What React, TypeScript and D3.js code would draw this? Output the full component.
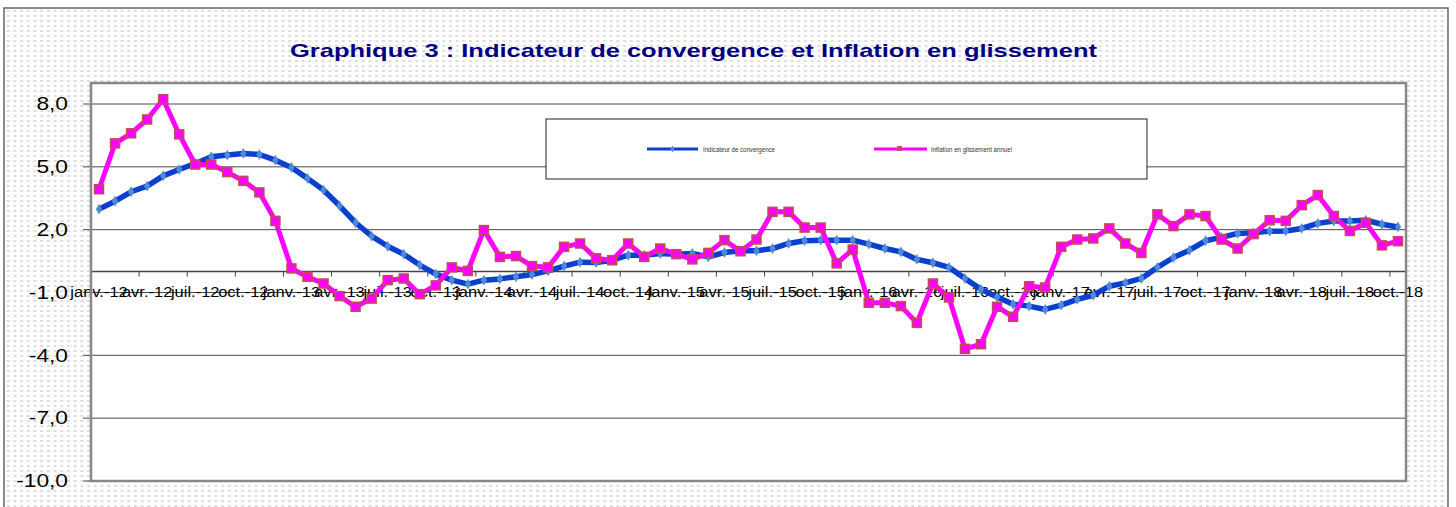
import React from 'react';
import * as d3 from 'd3';

// Mois (janv.-12 .. oct.-18)
const monthNames = ['janv.', 'févr.', 'mars', 'avr.', 'mai', 'juin', 'juil.', 'août', 'sept.', 'oct.', 'nov.', 'déc.'];
const years = ['12', '13', '14', '15', '16', '17', '18'];
const months: string[] = years.flatMap(y => monthNames.map(m => `${m}-${y}`)).slice(0, 82);

// Indicateur de convergence
const convergence = [
  2.98, 3.36, 3.81, 4.08, 4.57, 4.87, 5.16, 5.48, 5.56, 5.64, 5.59, 5.32,
  4.97, 4.45, 3.89, 3.14, 2.33, 1.69, 1.21, 0.83, 0.31, -0.12, -0.41, -0.6,
  -0.41, -0.35, -0.25, -0.14, 0.03, 0.26, 0.45, 0.43, 0.54, 0.78, 0.78, 0.86,
  0.83, 0.86, 0.7, 0.91, 0.99, 0.99, 1.1, 1.34, 1.47, 1.5, 1.5, 1.5,
  1.31, 1.1, 0.94, 0.58, 0.42, 0.2, -0.33, -0.85, -1.21, -1.56, -1.65, -1.81,
  -1.6, -1.33, -1.13, -0.7, -0.54, -0.33, 0.2, 0.67, 1.02, 1.47, 1.63, 1.82,
  1.85, 1.93, 1.94, 2.06, 2.3, 2.41, 2.41, 2.45, 2.26, 2.13,
];

// Inflation en glissement annuel
const inflation = [
  3.93, 6.12, 6.6, 7.26, 8.23, 6.55, 5.11, 5.11, 4.75, 4.33, 3.78, 2.42,
  0.15, -0.25, -0.57, -1.17, -1.68, -1.29, -0.41, -0.33, -1.08, -0.66, 0.2, 0.03,
  1.98, 0.7, 0.74, 0.26, 0.2, 1.18, 1.34, 0.63, 0.54, 1.34, 0.7, 1.1,
  0.83, 0.58, 0.89, 1.5, 0.97, 1.53, 2.85, 2.85, 2.1, 2.1, 0.39, 1.05,
  -1.49, -1.49, -1.65, -2.45, -0.57, -1.24, -3.69, -3.47, -1.68, -2.16, -0.7, -0.76,
  1.18, 1.53, 1.58, 2.06, 1.34, 0.89, 2.73, 2.17, 2.73, 2.65, 1.53, 1.1,
  1.79, 2.45, 2.42, 3.17, 3.65, 2.65, 1.94, 2.33, 1.25, 1.45,
];

const yTicks = [8, 5, 2, -1, -4, -7, -10];
const title = 'Graphique 3 : Indicateur de convergence et Inflation en glissement';
const seriesNames = ['Indicateur de convergence', 'Inflation en glissement annuel'];

const W = 1456;
const H = 507;
const plot = { left: 91, right: 1406, top: 83, bottom: 481 };

const fmt = d3.formatLocale({ decimal: ',', thousands: ' ', grouping: [3], currency: ['', ''], minus: '-' }).format('.1f');

export default function App() {
  const x = d3.scaleBand<string>().domain(months).range([plot.left, plot.right]).padding(0);
  const y = d3.scaleLinear().domain([-10, 8]).range([plot.bottom, 104]);
  const cx = (i: number) => (x(months[i]) as number) + x.bandwidth() / 2;

  const line = d3.line<number>().x((_, i) => cx(i)).y(d => y(d));

  const labelIdx = months.map((_, i) => i).filter(i => i % 3 === 0);
  const tickIdx = d3.range(0, months.length + 1, 3);

  const font = 'Arial, "Liberation Sans", sans-serif';

  return (
    <svg width={W} height={H} style={{ position: 'absolute', left: 0, top: 0 }} fontFamily={font}>
      <defs>
        <pattern id="dots" width="6.7" height="5" patternUnits="userSpaceOnUse">
          <rect width="6.7" height="5" fill="#ffffff" />
          <rect x="0" y="0" width="3" height="2" fill="#dedede" />
        </pattern>
      </defs>
      <rect width={W} height={H} fill="#fff" />
      <rect x={4} y={8} width={1444} height={520} fill="url(#dots)" stroke="#666" strokeWidth={1.5} />

      <text x={693.5} y={57} textAnchor="middle" fontSize={19} fontWeight="bold" fill="#000080"
        textLength={807} lengthAdjust="spacingAndGlyphs">{title}</text>

      {/* zone de tracé */}
      <rect x={plot.left} y={plot.top} width={plot.right - plot.left} height={plot.bottom - plot.top} fill="#fff" />

      {yTicks.filter(t => t > -10).map(t => (
        <line key={'g' + t} x1={plot.left} x2={plot.right} y1={y(t)} y2={y(t)} stroke="#4a4a4a" strokeWidth={1} />
      ))}
      {yTicks.map(t => (
        <g key={'y' + t}>
          <line x1={plot.left - 8} x2={plot.left} y1={y(t)} y2={y(t)} stroke="#4a4a4a" strokeWidth={1} />
          <text transform={`translate(68,${y(t)}) scale(1.3,1)`} dy="0.36em" textAnchor="end" fontSize={17.5} fill="#000">{fmt(t)}</text>
        </g>
      ))}

      {/* axe des abscisses à 0 */}
      <line x1={plot.left} x2={plot.right} y1={y(0)} y2={y(0)} stroke="#444" strokeWidth={1.5} />
      {tickIdx.map(i => {
        const xx = plot.left + i * x.bandwidth();
        return <line key={'t' + i} x1={xx} x2={xx} y1={y(0)} y2={y(0) + 5} stroke="#444" strokeWidth={1} />;
      })}
      {labelIdx.map(i => (
        <text key={'l' + i} transform={`translate(${cx(i)},297) scale(1.1,1)`} textAnchor="middle" fontSize={15} fill="#000">{months[i]}</text>
      ))}

      <rect x={plot.left} y={plot.top} width={plot.right - plot.left} height={plot.bottom - plot.top} fill="none" stroke="#888" strokeWidth={2.5} />

      {/* séries */}
      <path d={line(convergence) || ''} fill="none" stroke="#0a3fcf" strokeWidth={5.5} strokeLinejoin="round" />
      {convergence.map((v, i) => (
        <path key={'c' + i} d={d3.symbol(d3.symbolDiamond, 34)() || ''} transform={`translate(${cx(i)},${y(v)})`} fill="#4f8ad6" />
      ))}
      <path d={line(inflation) || ''} fill="none" stroke="#ff00ff" strokeWidth={5} strokeLinejoin="round" />
      {inflation.map((v, i) => (
        <rect key={'p' + i} x={cx(i) - 4.5} y={y(v) - 4.5} width={9} height={9} fill="#ff00ff" stroke="#c0504d" strokeWidth={1.5} />
      ))}

      {/* légende */}
      <rect x={546} y={119} width={601} height={60} fill="#fff" stroke="#222" strokeWidth={1} />
      <line x1={647} x2={698} y1={149} y2={149} stroke="#0a3fcf" strokeWidth={3} />
      <path d={d3.symbol(d3.symbolDiamond, 14)() || ''} transform="translate(672.5,149)" fill="#5b8fd4" />
      <text x={703} y={151.5} fontSize={7.5} fill="#333" textLength={72} lengthAdjust="spacingAndGlyphs">{seriesNames[0]}</text>
      <line x1={874} x2={927} y1={149} y2={149} stroke="#ff00ff" strokeWidth={3} />
      <rect x={897} y={146} width={5} height={5} fill="#c0504d" />
      <text x={931} y={151.5} fontSize={7.5} fill="#333" textLength={81} lengthAdjust="spacingAndGlyphs">{seriesNames[1]}</text>
    </svg>
  );
}
